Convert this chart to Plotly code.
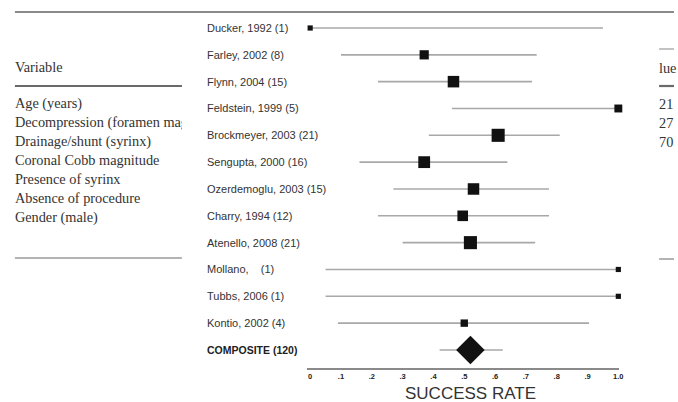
import plotly.graph_objects as go

W, H = 678, 402

# ---- forest plot data ----
studies = ["Ducker, 1992 (1)", "Farley, 2002 (8)", "Flynn, 2004 (15)", "Feldstein, 1999 (5)",
           "Brockmeyer, 2003 (21)", "Sengupta, 2000 (16)", "Ozerdemoglu, 2003 (15)", "Charry, 1994 (12)",
           "Atenello, 2008 (21)", "Mollano,    (1)", "Tubbs, 2006 (1)", "Kontio, 2002 (4)"]
n_patients = [1, 8, 15, 5, 21, 16, 15, 12, 21, 1, 1, 4]
rate = [0.0, 0.37, 0.465, 1.0, 0.61, 0.37, 0.53, 0.495, 0.52, 1.0, 1.0, 0.50]
ci_low = [0.0, 0.10, 0.22, 0.46, 0.385, 0.16, 0.27, 0.22, 0.30, 0.05, 0.05, 0.09]
ci_high = [0.95, 0.735, 0.72, 1.0, 0.81, 0.64, 0.775, 0.775, 0.73, 1.0, 1.0, 0.905]

composite_label = "COMPOSITE (120)"
composite_rate = 0.52
composite_low = 0.42
composite_high = 0.625

tick_vals = [0, 0.1, 0.2, 0.3, 0.4, 0.5, 0.6, 0.7, 0.8, 0.9, 1.0]
tick_text = ["0", ".1", ".2", ".3", ".4", ".5", ".6", ".7", ".8", ".9", "1.0"]

# ---- background table data ----
table_header = "Variable"
table_rows = ["Age (years)", "Decompression (foramen magnum)", "Drainage/shunt (syrinx)",
              "Coronal Cobb magnitude", "Presence of syrinx", "Absence of procedure", "Gender (male)"]
right_header = "lue"
right_values = ["21", "27", "70"]

fig = go.Figure()

rows = list(range(len(studies)))
sizes = [3 + 2.2 * (n ** 0.5) for n in n_patients]

fig.add_trace(go.Scatter(
    x=rate, y=rows, mode="markers",
    marker=dict(symbol="square", size=sizes, color="#111111", opacity=1, line=dict(width=0)),
    error_x=dict(type="data", symmetric=False,
                 array=[h - r for h, r in zip(ci_high, rate)],
                 arrayminus=[r - l for r, l in zip(rate, ci_low)],
                 color="#a8a8a8", thickness=1.6, width=0),
    cliponaxis=False, showlegend=False, hoverinfo="skip"))

fig.add_trace(go.Scatter(
    x=[composite_rate], y=[len(studies)], mode="markers",
    marker=dict(symbol="diamond", size=22, color="#111111", opacity=1, line=dict(width=0)),
    error_x=dict(type="data", symmetric=False,
                 array=[composite_high - composite_rate],
                 arrayminus=[composite_rate - composite_low],
                 color="#a8a8a8", thickness=1.6, width=0),
    cliponaxis=False, showlegend=False, hoverinfo="skip"))

# table text (clipped at the forest-plot overlay edge)
tab_y = [68] + [104 + 19 * i for i in range(len(table_rows))]
fig.add_trace(go.Scatter(
    x=[15] * (len(table_rows) + 1), y=tab_y, mode="text",
    text=[table_header] + table_rows, textposition="middle right",
    textfont=dict(family="Liberation Serif", size=14.3, color="#333333"),
    xaxis="x2", yaxis="y2", cliponaxis=True, showlegend=False, hoverinfo="skip"))

annotations = []
for i, s in enumerate(studies):
    annotations.append(dict(x=206 / W, xref="paper", y=i, yref="y", text=s, showarrow=False,
                            xanchor="left", yanchor="middle",
                            font=dict(family="Arial", size=11, color="#333333")))
annotations.append(dict(x=206 / W, xref="paper", y=len(studies), yref="y",
                        text="<b>" + composite_label + "</b>", showarrow=False,
                        xanchor="left", yanchor="middle",
                        font=dict(family="Arial", size=10.5, color="#222222")))
annotations.append(dict(x=661 / W, xref="paper", y=1 - 68 / H, yref="paper", text=right_header,
                        showarrow=False, xanchor="left", yanchor="middle",
                        font=dict(family="Liberation Serif", size=14.3, color="#333333")))
for j, v in enumerate(right_values):
    annotations.append(dict(x=661 / W, xref="paper", y=1 - (104 + 19 * j) / H, yref="paper",
                            text=v, showarrow=False, xanchor="left", yanchor="middle",
                            font=dict(family="Liberation Serif", size=14.3, color="#333333")))
annotations.append(dict(x=473 / W, xref="paper", y=1 - 393 / H, yref="paper", text="SUCCESS RATE",
                        showarrow=False, xanchor="center", yanchor="middle", borderpad=0,
                        font=dict(family="Arial", size=17, color="#333333")))


def hline(x0, x1, y, w, c):
    return dict(type="line", xref="paper", yref="paper", x0=x0 / W, x1=x1 / W,
                y0=1 - y / H, y1=1 - y / H, line=dict(color=c, width=w))


shapes = [
    hline(15, 678, 12, 2, "#8a8a8a"),
    hline(15, 183, 86, 2.2, "#6a6a6a"),
    hline(15, 183, 258, 1.5, "#9a9a9a"),
    hline(663, 678, 49, 1.2, "#9a9a9a"),
    hline(663, 678, 86, 2.2, "#6a6a6a"),
    hline(663, 678, 259, 1.5, "#9a9a9a"),
]

y_top_px, y_bot_px, row0_px, step = 12, 368, 28, 26.83
fig.update_layout(
    width=W, height=H, margin=dict(l=0, r=0, t=0, b=0),
    paper_bgcolor="white", plot_bgcolor="rgba(0,0,0,0)",
    xaxis=dict(domain=[309 / W, 623 / W], range=[-0.0097, 1.0032], showgrid=False, zeroline=False,
               showline=True, linecolor="#8a8a8a", linewidth=2, ticks="",
               tickvals=tick_vals, ticktext=tick_text,
               tickfont=dict(family="Arial", size=7.5, color="#222222", weight="bold")),
    yaxis=dict(domain=[1 - y_bot_px / H, 1 - y_top_px / H],
               range=[(y_bot_px - row0_px) / step, (y_top_px - row0_px) / step],
               visible=False, showgrid=False, zeroline=False),
    xaxis2=dict(domain=[0, 183 / W], range=[0, 183], visible=False, anchor="y2"),
    yaxis2=dict(domain=[0, 1], range=[H, 0], visible=False, anchor="x2"),
    annotations=annotations, shapes=shapes,
)

fig.write_html("out.html", config={"displayModeBar": False},
               post_script="document.body.style.margin='0';document.body.style.padding='0';")
